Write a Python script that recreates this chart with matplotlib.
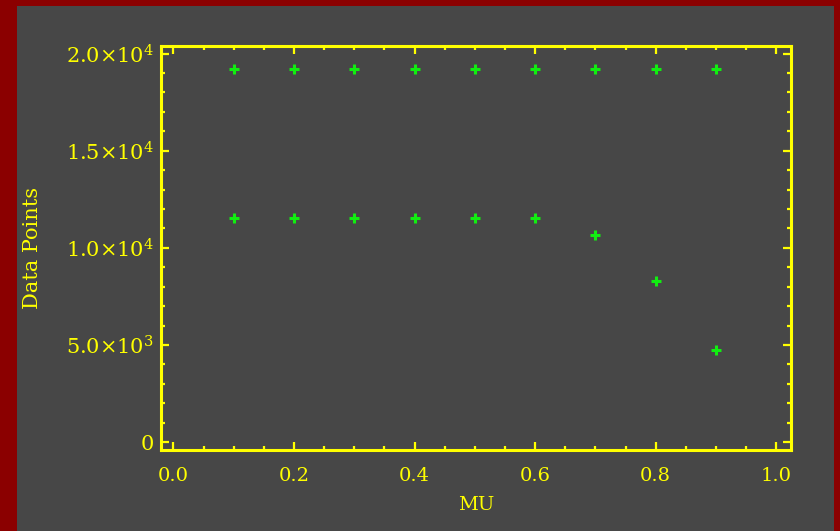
import matplotlib
matplotlib.use("Agg")
import math
import matplotlib.pyplot as plt
from matplotlib.patches import Rectangle
from matplotlib.ticker import MultipleLocator, FuncFormatter

plt.rcParams["mathtext.fontset"] = "custom"
plt.rcParams["mathtext.rm"] = "DejaVu Serif"
plt.rcParams["mathtext.it"] = "DejaVu Serif"
plt.rcParams["mathtext.bf"] = "DejaVu Serif"

# Data
mu = [0.1, 0.2, 0.3, 0.4, 0.5, 0.6, 0.7, 0.8, 0.9]
series_top = [19190, 19190, 19190, 19190, 19190, 19190, 19190, 19190, 19190]
series_low = [11530, 11530, 11530, 11530, 11530, 11530, 10670, 8280, 4720]
x_label = "MU"
y_label = "Data Points"

RED = "#8b0000"
GRAY = "#474747"
YEL = "#ffff00"
GRN = "#11ee11"
W, H = 840, 531

fig = plt.figure(figsize=(W / 100, H / 100), dpi=100, facecolor=RED)
fig.patches.append(Rectangle((17 / W, 0), (834 - 17) / W, (531 - 6) / H,
                             transform=fig.transFigure, facecolor=GRAY,
                             edgecolor="none", zorder=-10))

left, right = 161 / W, 790.5 / W
top, bottom = 1 - 45.5 / H, 1 - 450 / H
ax = fig.add_axes([left, bottom, right - left, top - bottom], facecolor=GRAY)

for s in series_top, series_low:
    ax.plot(mu, s, linestyle="none", marker="+", markersize=7,
            markeredgewidth=2.2, color=GRN)

ax.set_xlim(-0.0205, 1.0235)
ax.set_ylim(-410, 20420)

for sp in ax.spines.values():
    sp.set_color(YEL)
    sp.set_linewidth(2.2)

ax.xaxis.set_major_locator(MultipleLocator(0.2))
ax.xaxis.set_minor_locator(MultipleLocator(0.05))
ax.yaxis.set_major_locator(MultipleLocator(5000))
ax.yaxis.set_minor_locator(MultipleLocator(1000))


def yfmt(v, pos):
    if abs(v) < 1e-9:
        return "0"
    e = int(math.floor(math.log10(abs(v))))
    m = v / 10 ** e
    return f"{m:.1f}\u00d710" + r"$^{\mathregular{" + str(e) + "}}$"


ax.yaxis.set_major_formatter(FuncFormatter(yfmt))
ax.xaxis.set_major_formatter(FuncFormatter(lambda v, p: f"{v:.1f}"))

ax.tick_params(which="both", direction="in", colors=YEL, top=True, right=True,
               labelcolor=YEL)
ax.tick_params(which="major", length=6, width=1.6)
ax.tick_params(which="minor", length=3, width=1.6)
ax.tick_params(axis="x", which="major", pad=12)
ax.tick_params(axis="y", which="major", pad=5)

for lab in ax.get_xticklabels():
    lab.set_fontfamily("DejaVu Serif")
    lab.set_fontsize(14)
for lab in ax.get_yticklabels():
    lab.set_fontfamily("DejaVu Serif")
    lab.set_fontsize(15)

ax.set_xlabel(x_label, color=YEL, fontfamily="DejaVu Serif", fontsize=14, labelpad=8)
ax.set_ylabel(y_label, color=YEL, fontfamily="DejaVu Serif", fontsize=15, labelpad=17)

fig.savefig("out.png", dpi=100, facecolor=RED)
